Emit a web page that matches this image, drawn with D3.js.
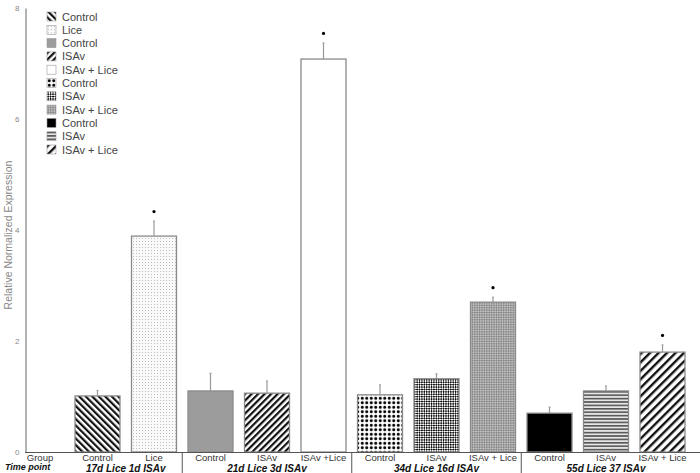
<!DOCTYPE html>
<html><head><meta charset="utf-8">
<script src="https://cdn.jsdelivr.net/npm/d3@7"></script>
<style>body{margin:0;background:#fff}svg{display:block;font-family:"Liberation Sans",Arial,sans-serif}</style>
</head><body><svg id="c" width="700" height="473"></svg>
<script>
const legendLabels = ["Control","Lice","Control","ISAv","ISAv + Lice","Control","ISAv","ISAv + Lice","Control","ISAv","ISAv + Lice"];
const axisLabels = ["Control","Lice","Control","ISAv","ISAv +Lice","Control","ISAv","ISAv + Lice","Control","ISAv","ISAv + Lice"];
const values = [1.01, 3.89, 1.10, 1.06, 7.08, 1.03, 1.32, 2.70, 0.70, 1.10, 1.80];
const errTops = [1.11, 4.16, 1.42, 1.28, 7.37, 1.21, 1.41, 2.79, 0.81, 1.19, 1.93];
const significant = [false, true, false, false, true, false, false, true, false, false, true];
const groupNames = ["17d Lice 1d ISAv", "21d Lice 3d ISAv", "34d Lice 16d ISAv", "55d Lice 37 ISAv"];
const groupSizes = [2, 3, 3, 3];
const yTicks = [0, 2, 4, 6, 8];
const patternIds = ["pDiagBack","pFineDots","pGray","pDiag","pWhite","pBigDots","pChecker","pGrayChecker","pBlack","pHoriz","pDiagWide"];

const svg = d3.select("#c");
const defs = svg.append("defs");
function pat(id, w, h, rot){
  const p = defs.append("pattern").attr("id", id).attr("patternUnits","userSpaceOnUse").attr("width", w).attr("height", h);
  if (rot) p.attr("patternTransform", `rotate(${rot})`);
  return p;
}
let p;
p = pat("pDiagBack", 4.6, 4.6, -45); p.append("rect").attr("width",4.6).attr("height",4.6).attr("fill","#fff");
p.append("rect").attr("width",2.2).attr("height",4.6).attr("fill","#111");
p = pat("pFineDots", 3, 3); p.append("rect").attr("width",3).attr("height",3).attr("fill","#fafafa");
p.append("rect").attr("x",1).attr("y",1).attr("width",1).attr("height",1).attr("fill","#bdbdbd");
p = pat("pGray", 4, 4); p.append("rect").attr("width",4).attr("height",4).attr("fill","#9c9c9c");
p = pat("pDiag", 4.6, 4.6, 45); p.append("rect").attr("width",4.6).attr("height",4.6).attr("fill","#fff");
p.append("rect").attr("width",2.2).attr("height",4.6).attr("fill","#111");
p = pat("pWhite", 4, 4); p.append("rect").attr("width",4).attr("height",4).attr("fill","#fff");
p = pat("pBigDots", 4.5, 4.5); p.append("rect").attr("width",4.5).attr("height",4.5).attr("fill","#fff");
p.append("circle").attr("cx",2.25).attr("cy",2.25).attr("r",1.5).attr("fill","#000");
p = pat("pChecker", 3.4, 3.4, 45); p.append("rect").attr("width",3.4).attr("height",3.4).attr("fill","#111");
p.append("rect").attr("width",1.7).attr("height",1.7).attr("fill","#fff");
p.append("rect").attr("x",1.7).attr("y",1.7).attr("width",1.7).attr("height",1.7).attr("fill","#fff");
p = pat("pGrayChecker", 3.4, 3.4, 45); p.append("rect").attr("width",3.4).attr("height",3.4).attr("fill","#888");
p.append("rect").attr("width",1.7).attr("height",1.7).attr("fill","#bfbfbf");
p.append("rect").attr("x",1.7).attr("y",1.7).attr("width",1.7).attr("height",1.7).attr("fill","#bfbfbf");
p = pat("pBlack", 4, 4); p.append("rect").attr("width",4).attr("height",4).attr("fill","#000");
p = pat("pHoriz", 4, 3.4); p.append("rect").attr("width",4).attr("height",3.4).attr("fill","#e6e6e6");
p.append("rect").attr("y",0).attr("width",4).attr("height",1.6).attr("fill","#555");
p = pat("pDiagWide", 6, 6, 45); p.append("rect").attr("width",6).attr("height",6).attr("fill","#fff");
p.append("rect").attr("width",2.4).attr("height",6).attr("fill","#111");

const x = d3.scaleBand().domain(d3.range(values.length)).range([69.25, 690.75]).paddingInner(0.2035).paddingOuter(0.10175);
const y = d3.scaleLinear().domain([0, 8]).range([452, 8]);

// y axis
const ya = svg.append("g").attr("transform","translate(25.5,0)").call(d3.axisLeft(y).tickValues(yTicks).tickSize(0).tickPadding(6));
ya.select(".domain").attr("stroke","#9a9a9a").attr("stroke-width",1.5);
ya.selectAll("text").attr("fill","#888").attr("font-size",8);
svg.append("text").attr("transform","translate(12,235) rotate(-90)").attr("text-anchor","middle")
  .attr("font-size",10.5).attr("fill","#888").text("Relative Normalized Expression");

// bars
const bars = svg.append("g");
bars.selectAll("rect").data(values).join("rect")
  .attr("x",(d,i)=>x(i)).attr("width",x.bandwidth())
  .attr("y",d=>y(d)).attr("height",d=>y(0)-y(d))
  .attr("fill",(d,i)=>`url(#${patternIds[i]})`)
  .attr("stroke","#8a8a8a").attr("stroke-width",1.3);
// error bars
bars.selectAll("line.err").data(errTops).join("line").attr("class","err")
  .attr("x1",(d,i)=>x(i)+x.bandwidth()/2).attr("x2",(d,i)=>x(i)+x.bandwidth()/2)
  .attr("y1",(d,i)=>y(values[i])).attr("y2",d=>y(d))
  .attr("stroke","#999").attr("stroke-width",1.2);
bars.selectAll("line.cap").data(errTops).join("line").attr("class","cap")
  .attr("x1",(d,i)=>x(i)+x.bandwidth()/2-1).attr("x2",(d,i)=>x(i)+x.bandwidth()/2+1)
  .attr("y1",d=>y(d)).attr("y2",d=>y(d))
  .attr("stroke","#999").attr("stroke-width",1);
bars.selectAll("circle.sig").data(errTops.map((d,i)=>({d,i})).filter(o=>significant[o.i])).join("circle").attr("class","sig")
  .attr("cx",o=>x(o.i)+x.bandwidth()/2).attr("cy",o=>y(o.d)-9.5).attr("r",1.6).attr("fill","#000");

// bottom table
svg.append("line").attr("x1",25).attr("x2",700).attr("y1",452.5).attr("y2",452.5).attr("stroke","#555").attr("stroke-width",1);
const xa = svg.append("g");
xa.selectAll("text").data(axisLabels).join("text")
  .attr("x",(d,i)=>x(i)+x.bandwidth()/2).attr("y",460.5).attr("text-anchor","middle")
  .attr("font-size",9.5).attr("fill","#333").text(d=>d);
svg.append("text").attr("x",40).attr("y",460.5).attr("text-anchor","middle").attr("font-size",9.5).attr("fill","#333").text("Group");
svg.append("text").attr("x",5).attr("y",470).attr("font-size",9).attr("font-weight","bold").attr("font-style","italic").attr("fill","#111").text("Time point");
let start = 0;
const seps = [];
groupNames.forEach((g,k)=>{
  const a = start, b = start + groupSizes[k] - 1;
  const cx = (x(a) + x(b) + x.bandwidth())/2;
  svg.append("text").attr("x",cx).attr("y",471.5).attr("text-anchor","middle").attr("font-size",10)
    .attr("font-weight","bold").attr("font-style","italic").attr("fill","#111").text(g);
  if (k > 0) seps.push((x(a-1) + x.bandwidth() + x(a))/2);
  start += groupSizes[k];
});
svg.selectAll("line.sep").data(seps).join("line").attr("class","sep")
  .attr("x1",d=>d).attr("x2",d=>d).attr("y1",452).attr("y2",473).attr("stroke","#555").attr("stroke-width",1);

// legend
const lg = svg.append("g").attr("transform","translate(47,12)");
const rows = lg.selectAll("g").data(legendLabels).join("g").attr("transform",(d,i)=>`translate(0,${i*13.3})`);
rows.append("rect").attr("width",9).attr("height",9).attr("fill",(d,i)=>`url(#${patternIds[i]})`)
  .attr("stroke","#999").attr("stroke-width",0.6);
rows.append("text").attr("x",15).attr("y",8.5).attr("font-size",11).attr("fill","#444").text(d=>d);
</script></body></html>
